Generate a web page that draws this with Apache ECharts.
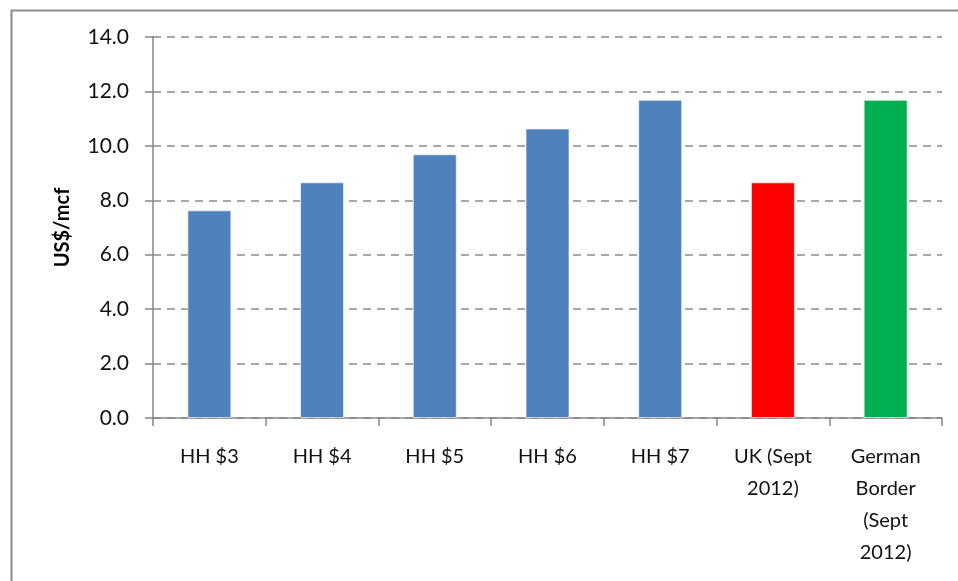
<!DOCTYPE html>
<html><head><meta charset="utf-8">
<script src="https://cdn.jsdelivr.net/npm/echarts@6/dist/echarts.min.js"></script>
<style>html,body{margin:0;padding:0;background:#fff}#c{width:958px;height:581px}</style>
</head><body><div id="c"></div>
<script>
const categories = ["HH $3", "HH $4", "HH $5", "HH $6", "HH $7", "UK (Sept\n2012)", "German\nBorder\n(Sept\n2012)"];
const values = [7.63, 8.66, 9.69, 10.64, 11.69, 8.66, 11.69];
const barColors = ["#4f81bd", "#4f81bd", "#4f81bd", "#4f81bd", "#4f81bd", "#ff0000", "#00b050"];
const yAxisName = "US$/mcf";

const chart = echarts.init(document.getElementById('c'), null, {renderer: 'canvas'});
const font = 'Lato, "Liberation Sans", sans-serif';
chart.setOption({
  animation: false,
  backgroundColor: '#fff',
  graphic: [{
    type: 'rect', left: 9, top: 8, shape: {x: 0, y: 0, width: 1000, height: 700},
    style: {fill: 'none', stroke: '#8c8c8c', lineWidth: 2}, silent: true
  }],
  grid: {left: 153, top: 37, right: 16, bottom: 163, containLabel: false},
  xAxis: {
    type: 'category', data: categories,
    axisLine: {lineStyle: {color: '#868686', width: 1.5}},
    axisTick: {show: true, length: 8, alignWithLabel: false, lineStyle: {color: '#868686', width: 1.5}},
    axisLabel: {interval: 0, margin: 23, fontFamily: font, fontSize: 20, color: '#111', lineHeight: 32, align: 'center'}
  },
  yAxis: {
    type: 'value', min: 0, max: 14, interval: 2,
    name: yAxisName, nameLocation: 'middle', nameGap: 80, nameRotate: 90,
    nameTextStyle: {fontFamily: font, fontSize: 20, fontWeight: 'bold', color: '#000'},
    axisLine: {show: true, lineStyle: {color: '#868686', width: 1.5}},
    axisTick: {show: true, length: 8, inside: false, lineStyle: {color: '#868686', width: 1.5}},
    axisLabel: {margin: 24, fontFamily: font, fontSize: 21, color: '#111', formatter: v => v.toFixed(1)},
    splitLine: {show: true, lineStyle: {color: '#8c8c8c', type: [8, 6], width: 1.5}}
  },
  series: [{
    type: 'bar',
    data: values.map((v, i) => ({value: v, itemStyle: {color: barColors[i]}})),
    barWidth: '39%',
    itemStyle: {borderColor: 'rgba(255,255,255,0.6)', borderWidth: 1}
  }]
});
</script></body></html>
